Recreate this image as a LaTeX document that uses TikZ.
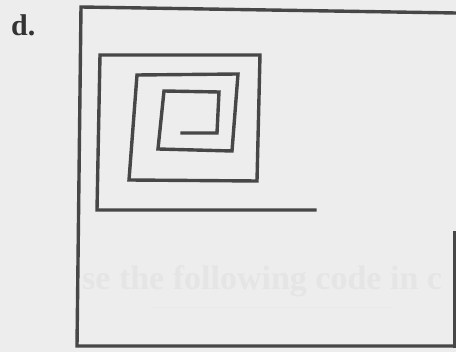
\documentclass[tikz,border=0pt]{standalone}
\usepackage{fontspec}
\setmainfont{Liberation Serif}
\usepackage{tikz}
\usetikzlibrary{calc}

\begin{document}
\begin{tikzpicture}[
    x=1pt, y=-1pt,
    paper/.style={
        fill=black!7,
        draw=none
    },
    pen/.style={
        draw=black!72,
        line width=3.4pt,
        line join=miter,
        line cap=rect
    },
    label/.style={
        font=\bfseries\fontsize{30}{34}\selectfont,
        text=black!80,
        inner sep=0pt,
        anchor=base west
    },
    ghost/.style={
        font=\bfseries\fontsize{34}{38}\selectfont,
        text=black!10,
        inner sep=0pt,
        anchor=base west
    }
]

% Paper
\fill [paper] (0,0) rectangle (456,352);
\useasboundingbox (0,0) rectangle (456,352);

% Faint text from the back of the page
\node (back) [ghost] at (82,290) {se the following code in c};
\draw [black!9, line width=1.2pt] ($(back.south west)+(70,10)$) -- ($(back.south east)+(-50,10)$);

% Label
\node (lbl) [label] at (11,36) {d.};

% Frame
\draw [pen] (456,13) -- (81,7) -- (77,346) -- (456,346);
\draw [pen] (454.5,233) -- (454.5,346);

% Spiral
\draw [pen] (315,210) -- (97,210) -- (100,55) -- (260,55)
    -- (257,181) -- (129,180) -- (137,75) -- (238,74)
    -- (232,151) -- (158,149) -- (164,91) -- (219,92)
    -- (217,133) -- (182,133);

\end{tikzpicture}
\end{document}
